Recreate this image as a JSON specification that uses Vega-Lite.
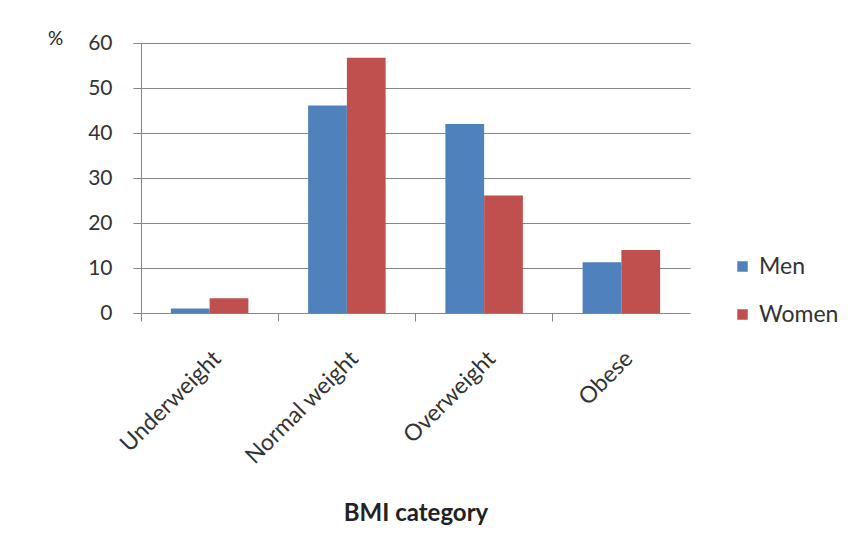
{
  "$schema": "https://vega.github.io/schema/vega-lite/v6.json",
  "autosize": {"type": "none"},
  "padding": {"left": 141, "top": 43, "right": 166, "bottom": 240},
  "width": 549,
  "height": 270,
  "background": "white",
  "data": {"values": [
    {"category": "Underweight", "sex": "Men", "percent": 1.0},
    {"category": "Underweight", "sex": "Women", "percent": 3.3},
    {"category": "Normal weight", "sex": "Men", "percent": 46.1},
    {"category": "Normal weight", "sex": "Women", "percent": 56.7},
    {"category": "Overweight", "sex": "Men", "percent": 42.0},
    {"category": "Overweight", "sex": "Women", "percent": 26.1},
    {"category": "Obese", "sex": "Men", "percent": 11.3},
    {"category": "Obese", "sex": "Women", "percent": 14.0}
  ]},
  "config": {
    "font": "Lato",
    "view": {"stroke": null},
    "axis": {"labelColor": "#333333", "titleColor": "#222222", "domainColor": "#868686", "tickColor": "#868686", "gridColor": "#868686"}
  },
  "layer": [
    {
      "mark": {"type": "bar"},
      "encoding": {
        "x": {
          "field": "category", "type": "nominal",
          "sort": ["Underweight", "Normal weight", "Overweight", "Obese"],
          "scale": {"paddingInner": 0, "paddingOuter": 0},
          "axis": {
            "title": "BMI category", "titleFontSize": 24, "titleFontWeight": "bold", "titleY": 188, "titlePadding": 0,
            "labelAngle": -45, "labelFontSize": 23, "labelPadding": 34, "ticks": false, "domain": false
          }
        },
        "xOffset": {
          "field": "sex", "type": "nominal",
          "scale": {"paddingInner": 0, "paddingOuter": 0.771}
        },
        "y": {
          "field": "percent", "type": "quantitative",
          "scale": {"domain": [0, 60]},
          "axis": {
            "title": "%", "titleAngle": 0, "titleX": -86, "titleY": -5, "titleAlign": "center", "titleBaseline": "middle",
            "titleFontSize": 19, "titleFontWeight": "normal",
            "values": [0, 10, 20, 30, 40, 50, 60], "labelFontSize": 21, "labelPadding": 21, "tickSize": 8,
            "grid": true, "domain": true
          }
        },
        "color": {
          "field": "sex", "type": "nominal",
          "scale": {"domain": ["Men", "Women"], "range": ["#4F81BD", "#C0504D"]},
          "legend": {
            "title": null, "orient": "none", "legendX": 590, "legendY": 212,
            "symbolType": "square", "symbolSize": 110, "symbolStrokeWidth": 0,
            "labelFontSize": 23, "labelColor": "#333333", "rowPadding": 24, "labelOffset": 5
          }
        }
      }
    },
    {
      "mark": {"type": "bar", "opacity": 0},
      "encoding": {
        "x": {
          "field": "category", "type": "nominal",
          "sort": ["Underweight", "Normal weight", "Overweight", "Obese"],
          "axis": {"orient": "bottom", "title": null, "labels": false, "ticks": true, "tickSize": 8, "bandPosition": 0, "domain": true, "grid": false}
        },
        "y": {"field": "percent", "type": "quantitative"}
      }
    }
  ],
  "resolve": {"axis": {"x": "independent"}}
}
